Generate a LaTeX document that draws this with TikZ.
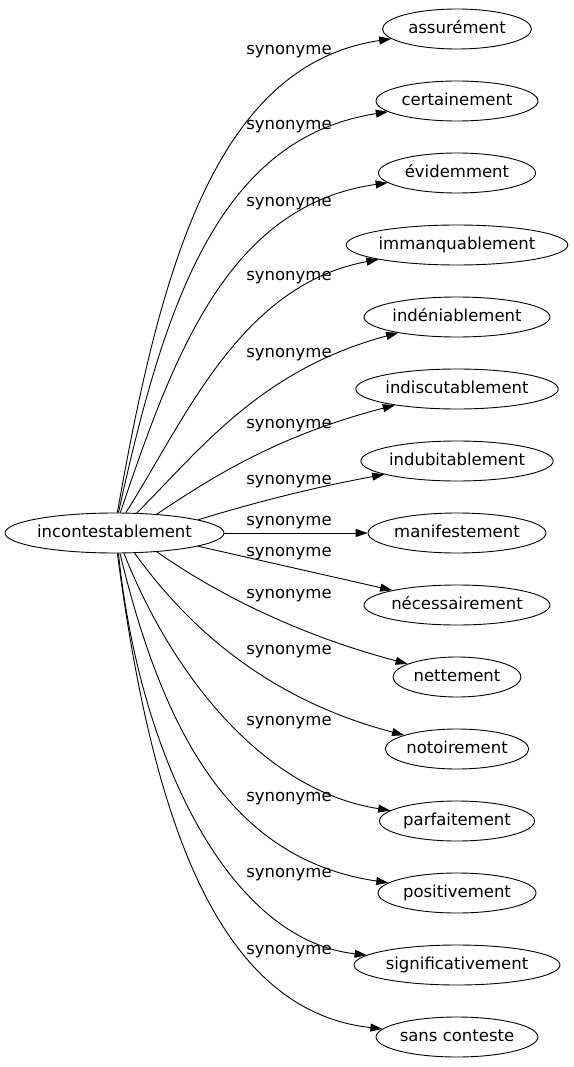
\documentclass[tikz,border=0pt]{standalone}
\usepackage{fontspec}
\setmainfont{DejaVu Sans}
\usetikzlibrary{arrows.meta,shapes.geometric}
\begin{document}
\begin{tikzpicture}[x=1pt,y=-1pt,
  every node/.style={font=\fontsize{16.5}{19}\selectfont},
  word/.style={ellipse, draw, line width=0.9pt, minimum height=40pt, inner sep=0pt, text height=12.5pt, text depth=4pt},
  lab/.style={inner sep=0pt, text height=12.5pt, text depth=4pt},
  edge/.style={line width=0.9pt, -{Triangle[length=12pt,width=8pt]}}]
\useasboundingbox (0,0) rectangle (573,1067);
\node[word, minimum width=219pt] (src) at (114.5,533) {incontestablement};
\node[word, minimum width=149pt] (n1) at (457,29) {assurément};
\node[word, minimum width=162pt] (n2) at (457,101) {certainement};
\node[word, minimum width=157pt] (n3) at (457,173) {évidemment};
\node[word, minimum width=219pt] (n4) at (457,245) {immanquablement};
\node[word, minimum width=186pt] (n5) at (457,317) {indéniablement};
\node[word, minimum width=187pt] (n6) at (457,389) {indiscutablement};
\node[word, minimum width=179pt] (n7) at (457,461) {indubitablement};
\node[word, minimum width=178pt] (n8) at (457,533) {manifestement};
\node[word, minimum width=186pt] (n9) at (457,605) {nécessairement};
\node[word, minimum width=128pt] (n10) at (457,677) {nettement};
\node[word, minimum width=143pt] (n11) at (457,749) {notoirement};
\node[word, minimum width=155pt] (n12) at (457,821) {parfaitement};
\node[word, minimum width=158pt] (n13) at (457,893) {positivement};
\node[word, minimum width=206pt] (n14) at (457,965) {significativement};
\node[word, minimum width=161pt] (n15) at (457,1037) {sans conteste};

\node[lab] (l1) at (289,50) {synonyme};
\node[lab] (l2) at (289,125) {synonyme};
\node[lab] (l3) at (289,202) {synonyme};
\node[lab] (l4) at (289,276) {synonyme};
\node[lab] (l5) at (289,353) {synonyme};
\node[lab] (l6) at (289,424) {synonyme};
\node[lab] (l7) at (289,480) {synonyme};
\node[lab] (l8) at (289,521) {synonyme};
\node[lab] (l9) at (289,552) {synonyme};
\node[lab] (l10) at (289,594) {synonyme};
\node[lab] (l11) at (289,650) {synonyme};
\node[lab] (l12) at (289,721) {synonyme};
\node[lab] (l13) at (289,797) {synonyme};
\node[lab] (l14) at (289,873) {synonyme};
\node[lab] (l15) at (289,950) {synonyme};

\draw[edge] (src.82) .. controls (160,270) and (215,65) .. (n1);
\draw[edge] (src.79) .. controls (165,300) and (220,138) .. (n2);
\draw[edge] (src.74) .. controls (175,350) and (230,205) .. (n3);
\draw[edge] (src.61) .. controls (185,420) and (240,285) .. (n4);
\draw[edge] (src.42) .. controls (200,450) and (260,370) .. (n5);
\draw[edge] (src.24.5) .. controls (215,475) and (280,435) .. (n6);
\draw[edge] (src.9.5) .. controls (240,507) and (300,490) .. (n7);
\draw[edge] (src) -- (n8);
\draw[edge] (src.-9) -- (n9);
\draw[edge] (src.-24.5) .. controls (200,582) and (280,630) .. (n10);
\draw[edge] (src.-45) .. controls (190,630) and (270,700) .. (n11);
\draw[edge] (src.-65) .. controls (170,670) and (260,790) .. (n12);
\draw[edge] (src.-75) .. controls (165,740) and (235,860) .. (n13);
\draw[edge] (src.-79) .. controls (140,760) and (230,940) .. (n14);
\draw[edge] (src.-82) .. controls (150,800) and (210,1010) .. (n15);
\end{tikzpicture}
\end{document}
